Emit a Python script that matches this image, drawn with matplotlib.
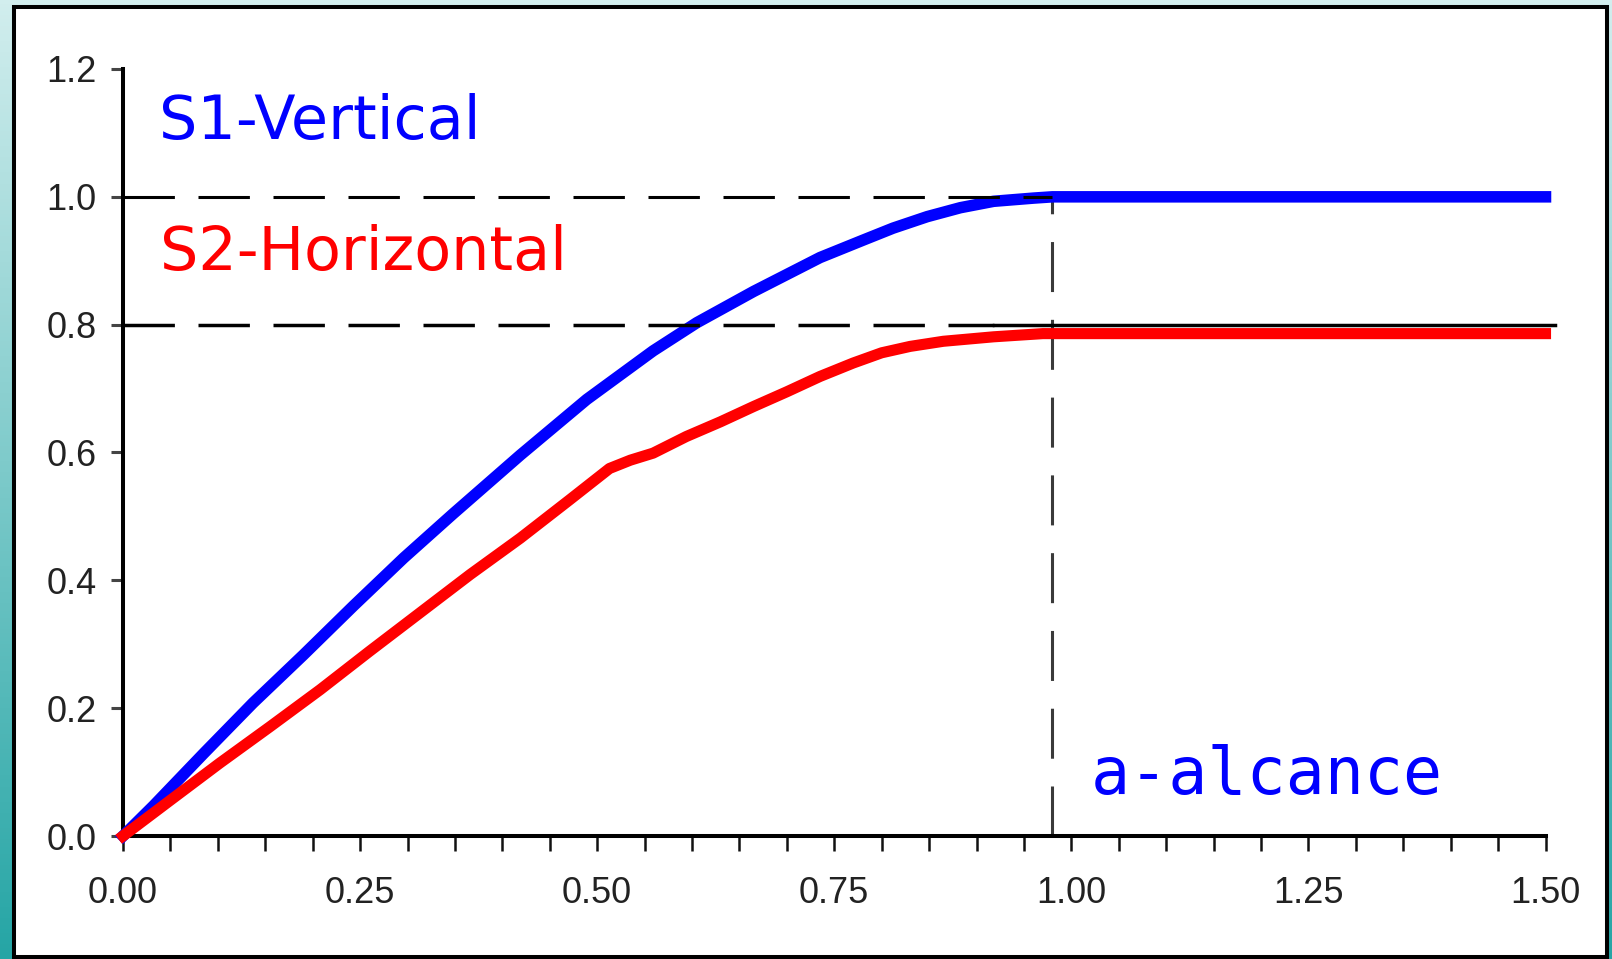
#!/usr/bin/env python3
# Variogramas direcionais: S1 (vertical) e S2 (horizontal) com patamar e alcance
import matplotlib
matplotlib.use("Agg")
import matplotlib.pyplot as plt
from matplotlib.patches import Rectangle
import numpy as np

# Cores
AZUL = "#0000FF"
VERM = "#FF0000"
INK = "#111111"
FUNDO_TOPO = np.array([0xD2, 0xEE, 0xEE]) / 255
FUNDO_BASE = np.array([0x25, 0xA5, 0xA5]) / 255

# Dados (distância h, variograma)
h_s1 = [0.0, 0.032, 0.085, 0.137, 0.190, 0.243, 0.296, 0.348, 0.419, 0.489,
        0.559, 0.605, 0.665, 0.735, 0.780, 0.812, 0.848, 0.883, 0.918, 0.960,
        0.980, 1.500]
g_s1 = [0.0, 0.047, 0.129, 0.208, 0.283, 0.360, 0.435, 0.504, 0.596, 0.683,
        0.759, 0.803, 0.852, 0.905, 0.932, 0.951, 0.969, 0.983, 0.993, 0.998,
        1.000, 1.000]

h_s2 = [0.0, 0.050, 0.102, 0.155, 0.208, 0.260, 0.313, 0.366, 0.419, 0.471,
        0.513, 0.535, 0.559, 0.594, 0.630, 0.665, 0.700, 0.735, 0.770, 0.800,
        0.830, 0.865, 0.918, 0.970, 1.500]
g_s2 = [0.0, 0.056, 0.114, 0.171, 0.229, 0.289, 0.349, 0.409, 0.466, 0.526,
        0.575, 0.588, 0.599, 0.625, 0.648, 0.672, 0.695, 0.719, 0.740, 0.756,
        0.766, 0.774, 0.781, 0.786, 0.786]

patamar_s1 = 1.0
patamar_s2 = 0.8
alcance = 0.98
s2_trecho_cheio = (0.918, 1.51)   # parte contínua da linha de 0.8

xticks = [0.0, 0.25, 0.50, 0.75, 1.00, 1.25, 1.50]
xticklabels = ["0.00", "0.25", "0.50", "0.75", "1.00", "1.25", "1.50"]
xminor = [i * 0.05 for i in range(31)]
yticks = [0.0, 0.2, 0.4, 0.6, 0.8, 1.0, 1.2]
yticklabels = ["0.0", "0.2", "0.4", "0.6", "0.8", "1.0", "1.2"]

plt.rcParams.update({
    "font.family": "Liberation Sans",
    "lines.scale_dashes": False,
})

W, H = 1612, 959
fig = plt.figure(figsize=(W / 100, H / 100), dpi=100)

# Fundo em degradê (só aparece nas bordas)
bg = fig.add_axes([0, 0, 1, 1])
t = np.linspace(0, 1, 256)[:, None, None]
grad = FUNDO_TOPO * (1 - t) + FUNDO_BASE * t
bg.imshow(grad, aspect="auto", extent=[0, 1, 0, 1], origin="upper")
bg.set_xlim(0, 1); bg.set_ylim(0, 1); bg.axis("off")

# Painel branco com moldura preta
bg.add_patch(Rectangle((14 / W, 2 / H), (1607 - 14) / W, (952 - 2) / H,
                       facecolor="white", edgecolor="black", lw=2.9,
                       transform=bg.transAxes, zorder=2))

ax = fig.add_axes([123 / W, 123 / H, (1545.5 - 123) / W, (836 - 69) / H])
ax.set_facecolor("none")
ax.set_xlim(0, 1.5); ax.set_ylim(0, 1.2)
for s in ["top", "right"]:
    ax.spines[s].set_visible(False)
for s in ["left", "bottom"]:
    ax.spines[s].set_linewidth(2.9)
    ax.spines[s].set_color("black")

ax.set_xticks(xticks)
ax.set_xticklabels(xticklabels)
ax.set_xticks(xminor, minor=True)
ax.set_yticks(yticks)
ax.set_yticklabels(yticklabels)
ax.tick_params(axis="x", which="both", direction="out", length=11,
               width=1.8, color=INK)
ax.tick_params(axis="x", which="major", labelsize=26, pad=18,
               labelcolor="#222222")
ax.tick_params(axis="y", direction="out", length=8.6, width=2.2,
               color="#444444", labelsize=26, pad=10.5, labelcolor="#222222")

# Alcance (linha vertical tracejada)
ax.plot([alcance, alcance], [0, patamar_s1], color="#3A3A3A", lw=2.2,
        dashes=(36, 20), zorder=2, clip_on=False)

# Curvas
ax.plot(h_s1, g_s1, color=AZUL, lw=8.3, solid_capstyle="projecting",
        solid_joinstyle="round", zorder=3, clip_on=False)
ax.plot(h_s2, g_s2, color=VERM, lw=8.0, solid_capstyle="projecting",
        solid_joinstyle="round", zorder=3, clip_on=False)

# Patamares
ax.plot([0, alcance], [patamar_s1, patamar_s1], color="black", lw=2.2,
        dashes=(37, 17), dash_capstyle="butt", zorder=4, clip_on=False)
ax.plot([0, s2_trecho_cheio[0]], [patamar_s2, patamar_s2], color="black",
        lw=2.5, dashes=(37, 17), dash_capstyle="butt", zorder=4,
        clip_on=False)
ax.plot(list(s2_trecho_cheio), [patamar_s2, patamar_s2], color="black",
        lw=2.5, zorder=4, clip_on=False)

# Rótulos
ax.text(0.038, 1.090, "S1-Vertical", color=AZUL, fontsize=43.5,
        family="DejaVu Sans", ha="left", va="baseline", zorder=5)
ax.text(0.039, 0.886, "S2-Horizontal", color=VERM, fontsize=43.5,
        family="DejaVu Sans", ha="left", va="baseline", zorder=5)
ax.text(1.021, 0.066, "a-alcance", color=AZUL, fontsize=46.8,
        family="DejaVu Sans Mono", ha="left", va="baseline", zorder=5)

fig.savefig("out.png", dpi=100)
plt.close(fig)
